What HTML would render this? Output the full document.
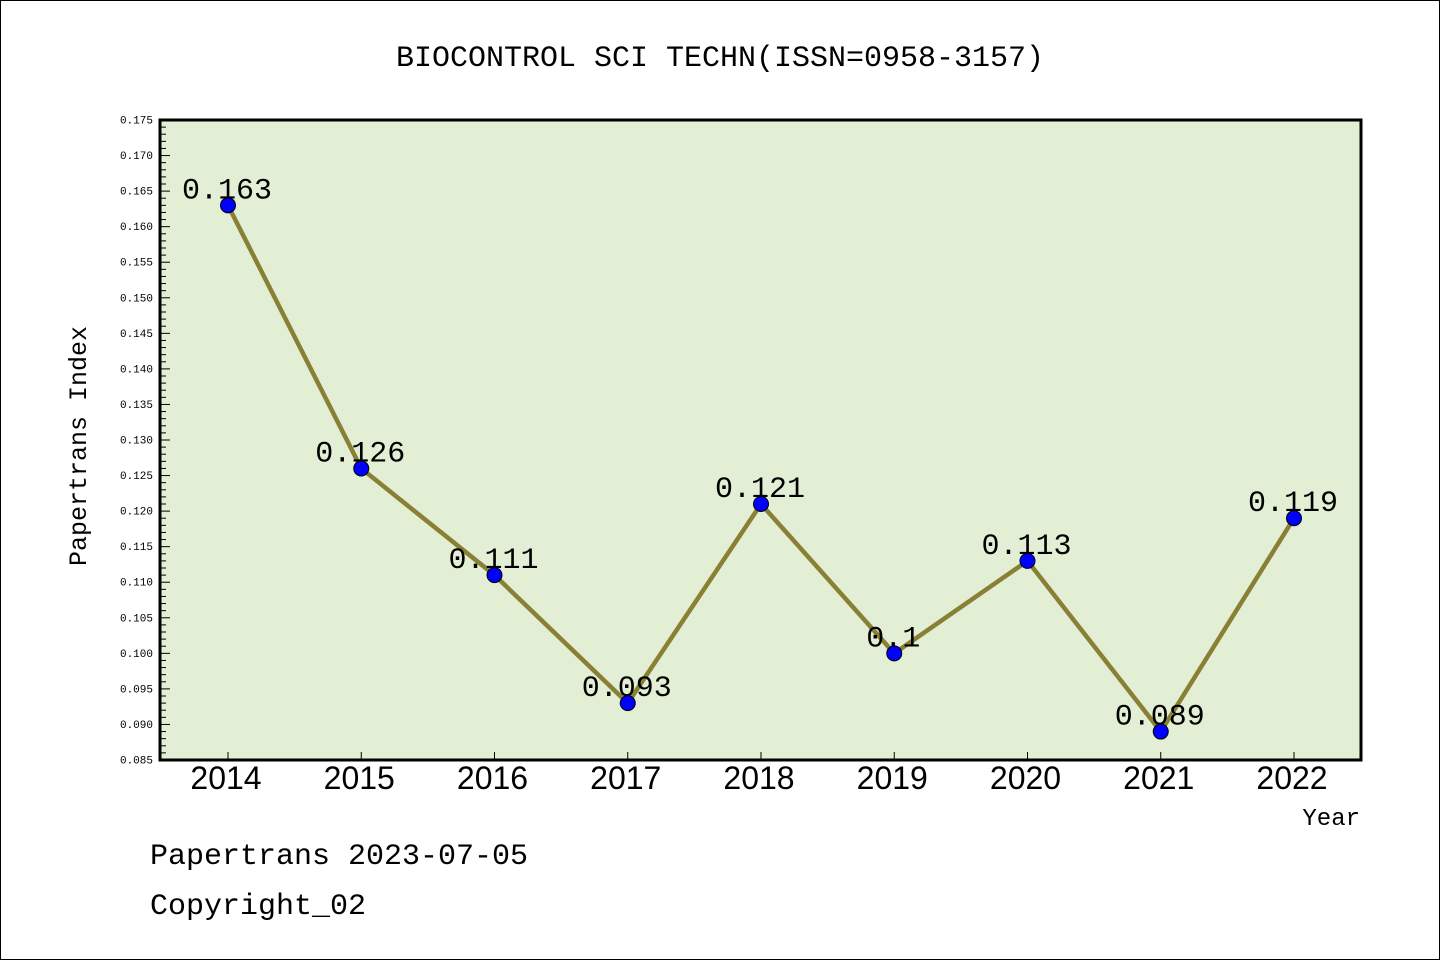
<!DOCTYPE html>
<html><head><meta charset="utf-8"><style>
body{margin:0;background:#fff}
svg{display:block;font-family:"Liberation Mono","WenQuanYi Zen Hei",monospace}
</style></head><body>
<svg width="1440" height="960" xmlns="http://www.w3.org/2000/svg">
<rect x="0.5" y="0.5" width="1439" height="959" fill="#fff" stroke="#000"/>
<text x="720" y="66" text-anchor="middle" font-size="30">BIOCONTROL SCI TECHN(ISSN=0958-3157)</text>
<rect x="160" y="120" width="1201" height="640" fill="#e2efd5"/>
<g id="yticks"></g>
<g id="xticks"></g>
<g id="series"></g>
<rect x="160" y="120" width="1201" height="640" fill="none" stroke="#000" stroke-width="3"/>
<text x="86" y="446" text-anchor="middle" font-size="25" transform="rotate(-90 86 446)">Papertrans Index</text>
<text x="1360" y="825" text-anchor="end" font-size="24">Year</text>
<text x="150" y="864" font-size="30">Papertrans 2023-07-05</text>
<text x="150" y="914" font-size="30">Copyright_02</text>
<script>
const years=["2014","2015","2016","2017","2018","2019","2020","2021","2022"];
const values=[0.163,0.126,0.111,0.093,0.121,0.1,0.113,0.089,0.119];
const valueLabels=["0.163","0.126","0.111","0.093","0.121","0.1","0.113","0.089","0.119"];
const yMin=0.085,yMax=0.175;
const NS="http://www.w3.org/2000/svg";
const L=160,R=1361,T=120,B=760;
function ys(v){return B-(v-yMin)/(yMax-yMin)*(B-T);}
function xs(i){return 228+i*(1294-228)/(years.length-1);}
function mk(t,a,p){const e=document.createElementNS(NS,t);for(const k in a)e.setAttribute(k,a[k]);p.appendChild(e);return e;}
const yg=document.getElementById('yticks');
for(let k=0;k<=90;k++){
  const v=yMin+k*0.001,y=ys(v),major=k%5===0;
  const l=mk('line',{x1:L,x2:L+(major?10:6),y1:y,y2:y,stroke:'#000','stroke-width':1},yg);
  
  
  if(major){const t=mk('text',{x:153,y:y+3.5,'text-anchor':'end','font-size':11,'font-family':'Liberation Mono, monospace'},yg);t.textContent=v.toFixed(3);
  
  }
}
const xg=document.getElementById('xticks');
years.forEach((yr,i)=>{
  const x=xs(i);
  const l=mk('line',{x1:x,x2:x,y1:B,y2:B-8,stroke:'#000','stroke-width':1},xg);
  
  
  const t=mk('text',{x:x-2,y:789,'text-anchor':'middle','font-size':32,'font-family':'Liberation Sans, sans-serif'},xg);t.textContent=yr;
  
  
});
const sg=document.getElementById('series');
const pl=mk('polyline',{points:values.map((v,i)=>xs(i)+','+ys(v)).join(' '),fill:'none',stroke:'#8a8035','stroke-width':4.5},sg);


values.forEach((v,i)=>{
  const c=mk('circle',{cx:xs(i),cy:ys(v),r:7.5,fill:'#0000ff',stroke:'#000','stroke-width':1},sg);
  
  
  const t=mk('text',{x:xs(i)-1,y:ys(v)-7,'text-anchor':'middle','font-size':30},sg);t.textContent=valueLabels[i];
  
  
});
</script>
</svg>
</body></html>
